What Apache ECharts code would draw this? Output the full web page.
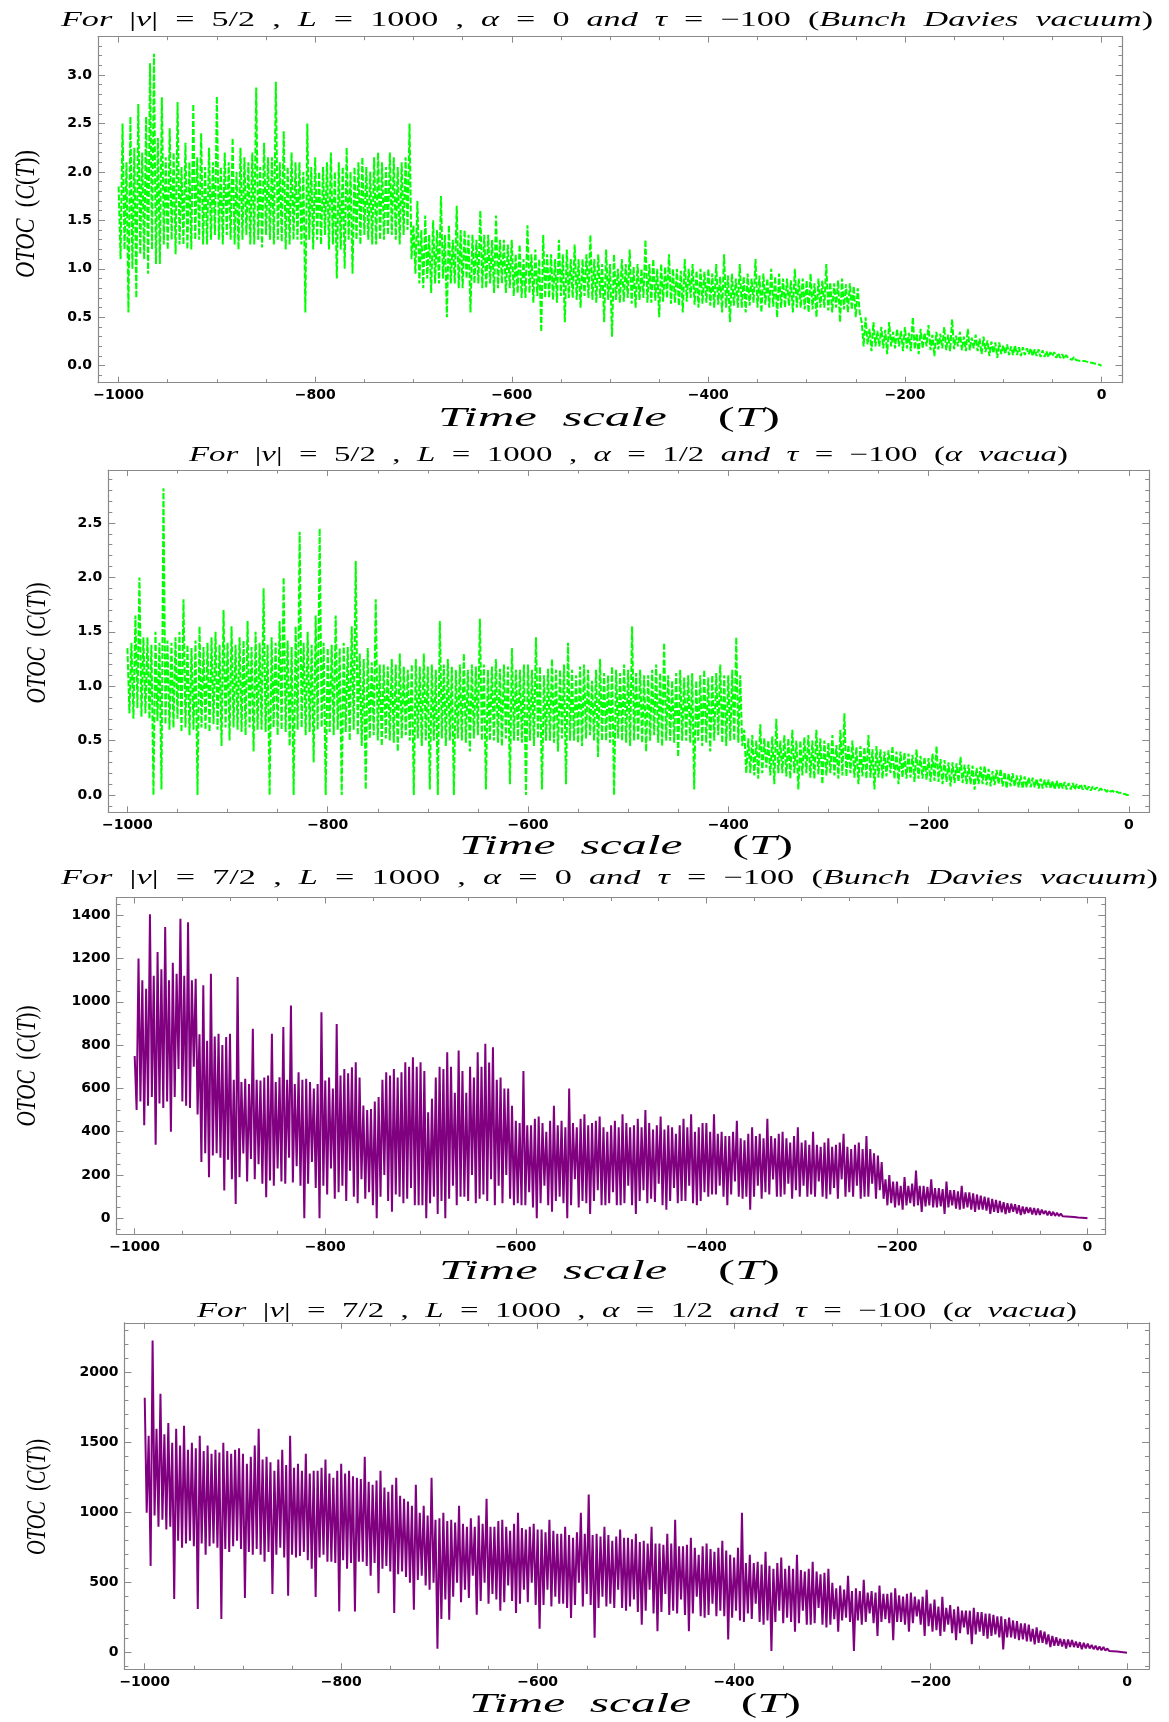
<!DOCTYPE html>
<html>
<head>
<meta charset="utf-8">
<title>OTOC vs time scale</title>
<script src="https://cdn.jsdelivr.net/npm/echarts@6/dist/echarts.min.js"></script>
<style>
  html, body { margin: 0; padding: 0; background: #ffffff; }
  #chart { width: 1169px; height: 1722px; }
</style>
</head>
<body>
<div id="chart"></div>
<script>
// OTOC values C(T), sampled every 2 time units from T = -1000 to T = 0 (501 samples each)
const otocNu52Alpha0 = [
  1.85, 1.10, 2.50, 1.20, 2.10, 0.55, 2.57, 1.00, 2.25, 0.70, 2.70, 1.15, 2.20, 1.10, 2.57, 0.95, 3.12, 1.20, 3.22, 1.05, 2.35, 1.05, 2.77, 1.25, 2.15, 1.20, 2.45, 1.30, 2.20, 1.15, 2.72, 1.25, 2.05, 1.25, 2.30, 1.20, 2.10, 1.20, 2.70, 1.30, 2.15, 1.30, 2.40, 1.25, 2.05, 1.25, 2.25, 1.30, 2.10, 1.35,
  2.78, 1.30, 2.05, 1.25, 2.20, 1.35, 2.10, 1.30, 2.35, 1.25, 2.00, 1.20, 2.25, 1.30, 2.15, 1.35, 2.10, 1.25, 2.20, 1.25, 2.87, 1.30, 2.05, 1.22, 2.30, 1.35, 2.15, 1.30, 2.15, 1.25, 2.93, 1.30, 2.10, 1.28, 2.42, 1.20, 2.05, 1.25, 2.20, 1.30, 2.10, 1.30, 2.10, 1.25, 2.00, 0.55, 2.50, 1.30, 2.05, 1.20,
  2.15, 1.30, 2.00, 1.25, 2.05, 1.35, 2.10, 1.20, 2.20, 1.25, 2.00, 0.90, 2.10, 1.20, 2.05, 1.00, 2.25, 1.30, 2.00, 0.95, 2.05, 1.30, 2.10, 1.25, 2.15, 1.35, 2.05, 1.30, 2.00, 1.25, 2.15, 1.25, 2.20, 1.30, 2.10, 1.30, 2.05, 1.35, 2.20, 1.35, 2.15, 1.30, 2.05, 1.25, 2.10, 1.35, 2.15, 1.40, 2.50, 1.10,
  1.45, 0.95, 1.70, 0.85, 1.40, 0.80, 1.55, 0.90, 1.35, 0.75, 1.50, 0.85, 1.40, 0.85, 1.75, 0.90, 1.35, 0.50, 1.45, 0.85, 1.30, 0.85, 1.65, 0.80, 1.40, 0.80, 1.40, 0.90, 1.35, 0.55, 1.35, 0.85, 1.30, 0.85, 1.60, 0.80, 1.35, 0.80, 1.35, 0.85, 1.30, 0.75, 1.55, 0.80, 1.30, 0.85, 1.30, 0.75, 1.25, 0.80,
  1.30, 0.72, 1.15, 0.75, 1.25, 0.70, 1.10, 0.70, 1.45, 0.75, 1.15, 0.65, 1.20, 0.72, 1.10, 0.35, 1.35, 0.70, 1.15, 0.70, 1.15, 0.68, 1.10, 0.65, 1.30, 0.72, 1.15, 0.45, 1.20, 0.70, 1.10, 0.70, 1.25, 0.68, 1.10, 0.60, 1.10, 0.72, 1.15, 0.70, 1.35, 0.68, 1.10, 0.65, 1.15, 0.70, 1.05, 0.45, 1.20, 0.68,
  1.05, 0.30, 1.15, 0.68, 1.00, 0.65, 1.10, 0.66, 1.05, 0.70, 1.20, 0.64, 1.02, 0.60, 1.05, 0.68, 1.00, 0.70, 1.30, 0.65, 1.05, 0.65, 1.10, 0.67, 1.00, 0.50, 1.05, 0.66, 1.02, 0.70, 1.15, 0.64, 1.00, 0.65, 1.00, 0.62, 0.98, 0.55, 1.10, 0.66, 1.00, 0.70, 1.05, 0.63, 0.98, 0.60, 1.00, 0.64, 0.97, 0.65,
  1.00, 0.62, 0.95, 0.60, 1.05, 0.63, 0.92, 0.55, 1.15, 0.60, 0.93, 0.45, 0.95, 0.62, 0.90, 0.60, 1.05, 0.60, 0.92, 0.55, 0.95, 0.62, 0.90, 0.65, 1.10, 0.60, 0.93, 0.55, 0.95, 0.63, 0.90, 0.60, 1.00, 0.61, 0.92, 0.50, 0.95, 0.60, 0.90, 0.60, 0.90, 0.62, 0.88, 0.55, 1.00, 0.60, 0.90, 0.60, 0.90, 0.58,
  0.88, 0.55, 0.95, 0.58, 0.85, 0.50, 0.90, 0.60, 0.88, 0.60, 1.05, 0.57, 0.86, 0.55, 0.85, 0.60, 0.88, 0.45, 0.90, 0.58, 0.84, 0.55, 0.85, 0.58, 0.82, 0.50, 0.80, 0.55, 0.45, 0.20, 0.50, 0.22, 0.38, 0.15, 0.45, 0.20, 0.36, 0.20, 0.40, 0.18, 0.37, 0.12, 0.45, 0.20, 0.35, 0.18, 0.38, 0.20, 0.36, 0.15,
  0.40, 0.18, 0.34, 0.15, 0.50, 0.17, 0.33, 0.12, 0.38, 0.18, 0.34, 0.20, 0.42, 0.16, 0.32, 0.10, 0.35, 0.17, 0.33, 0.18, 0.40, 0.16, 0.32, 0.15, 0.48, 0.17, 0.31, 0.20, 0.35, 0.16, 0.30, 0.15, 0.38, 0.16, 0.29, 0.18, 0.32, 0.15, 0.28, 0.12, 0.30, 0.14, 0.26, 0.10, 0.25, 0.13, 0.24, 0.08, 0.24, 0.12,
  0.21, 0.12, 0.22, 0.11, 0.20, 0.11, 0.21, 0.11, 0.19, 0.10, 0.19, 0.11, 0.18, 0.12, 0.18, 0.10, 0.17, 0.10, 0.17, 0.09, 0.16, 0.09, 0.15, 0.09, 0.14, 0.10, 0.14, 0.08, 0.13, 0.08, 0.12, 0.07, 0.11, 0.08, 0.10, 0.06, 0.09, 0.06, 0.08, 0.05, 0.07, 0.05, 0.06, 0.04, 0.05, 0.03, 0.04, 0.02, 0.02, 0.01,
  0.00
];

const otocNu52AlphaHalf = [
  1.35, 0.75, 1.40, 0.70, 1.65, 0.80, 2.00, 0.72, 1.45, 0.75, 1.45, 0.70, 1.38, 0.00, 1.50, 0.68, 1.40, 0.05, 2.82, 0.65, 1.42, 0.60, 1.40, 0.62, 1.45, 0.70, 1.50, 0.58, 1.80, 0.62, 1.38, 0.55, 1.35, 0.60, 1.42, 0.00, 1.55, 0.62, 1.36, 0.60, 1.40, 0.58, 1.45, 0.65, 1.50, 0.60, 1.38, 0.45, 1.70, 0.62,
  1.40, 0.50, 1.55, 0.62, 1.38, 0.60, 1.45, 0.58, 1.42, 0.55, 1.60, 0.62, 1.36, 0.40, 1.50, 0.60, 1.40, 0.60, 1.90, 0.58, 1.38, 0.00, 1.45, 0.62, 1.40, 0.55, 1.60, 0.60, 2.00, 0.58, 1.42, 0.45, 1.36, 0.00, 1.55, 0.60, 2.42, 0.62, 1.40, 0.55, 1.50, 0.58, 1.38, 0.30, 1.65, 0.60, 2.45, 0.62, 1.40, 0.00,
  1.35, 0.58, 1.38, 0.55, 1.65, 0.60, 1.35, 0.00, 1.40, 0.58, 1.36, 0.50, 1.55, 0.60, 2.15, 0.55, 1.30, 0.45, 1.25, 0.05, 1.35, 0.52, 1.22, 0.55, 1.80, 0.50, 1.20, 0.45, 1.20, 0.52, 1.18, 0.50, 1.25, 0.48, 1.20, 0.40, 1.30, 0.52, 1.18, 0.55, 1.15, 0.50, 1.20, 0.00, 1.25, 0.52, 1.18, 0.45, 1.30, 0.50,
  1.18, 0.05, 1.20, 0.50, 1.15, 0.00, 1.60, 0.52, 1.20, 0.45, 1.25, 0.50, 1.18, 0.00, 1.15, 0.52, 1.20, 0.50, 1.30, 0.48, 1.15, 0.40, 1.20, 0.52, 1.18, 0.55, 1.62, 0.50, 1.20, 0.05, 1.15, 0.50, 1.18, 0.50, 1.25, 0.48, 1.16, 0.45, 1.20, 0.52, 1.18, 0.10, 1.35, 0.50, 1.15, 0.50, 1.15, 0.48, 1.20, 0.00,
  1.20, 0.50, 1.15, 0.45, 1.45, 0.52, 1.18, 0.05, 1.10, 0.50, 1.16, 0.50, 1.25, 0.48, 1.15, 0.40, 1.15, 0.52, 1.20, 0.10, 1.40, 0.50, 1.15, 0.50, 1.10, 0.48, 1.18, 0.45, 1.20, 0.52, 1.15, 0.55, 1.05, 0.50, 1.15, 0.35, 1.25, 0.50, 1.12, 0.50, 1.10, 0.48, 1.18, 0.00, 1.15, 0.52, 1.12, 0.50, 1.20, 0.48,
  1.15, 0.45, 1.55, 0.50, 1.12, 0.50, 1.15, 0.48, 1.10, 0.40, 1.10, 0.50, 1.15, 0.55, 1.20, 0.48, 1.12, 0.45, 1.40, 0.50, 1.10, 0.50, 1.05, 0.48, 1.12, 0.35, 1.15, 0.50, 1.08, 0.50, 1.10, 0.48, 1.12, 0.05, 1.05, 0.50, 1.10, 0.45, 1.15, 0.48, 1.08, 0.40, 1.10, 0.50, 1.12, 0.55, 1.20, 0.48, 1.10, 0.45,
  1.10, 0.50, 1.15, 0.50, 1.45, 0.48, 1.10, 0.45, 0.60, 0.20, 0.52, 0.20, 0.55, 0.18, 0.50, 0.15, 0.65, 0.20, 0.52, 0.25, 0.50, 0.18, 0.54, 0.10, 0.70, 0.20, 0.50, 0.20, 0.55, 0.17, 0.52, 0.15, 0.60, 0.20, 0.50, 0.05, 0.50, 0.18, 0.53, 0.20, 0.55, 0.16, 0.50, 0.15, 0.60, 0.19, 0.52, 0.10, 0.50, 0.18,
  0.48, 0.20, 0.55, 0.18, 0.46, 0.15, 0.60, 0.18, 0.75, 0.17, 0.46, 0.20, 0.50, 0.16, 0.44, 0.10, 0.45, 0.17, 0.44, 0.15, 0.55, 0.16, 0.42, 0.05, 0.45, 0.16, 0.42, 0.15, 0.40, 0.17, 0.41, 0.20, 0.45, 0.15, 0.40, 0.10, 0.40, 0.16, 0.39, 0.15, 0.38, 0.16, 0.37, 0.12, 0.42, 0.15, 0.36, 0.15, 0.35, 0.14,
  0.34, 0.12, 0.38, 0.13, 0.45, 0.12, 0.33, 0.10, 0.32, 0.12, 0.30, 0.08, 0.30, 0.11, 0.29, 0.12, 0.35, 0.11, 0.28, 0.10, 0.28, 0.10, 0.27, 0.05, 0.25, 0.10, 0.26, 0.10, 0.27, 0.09, 0.24, 0.08, 0.22, 0.09, 0.23, 0.10, 0.24, 0.08, 0.21, 0.06, 0.20, 0.08, 0.20, 0.08, 0.18, 0.07, 0.18, 0.06, 0.17, 0.07,
  0.16, 0.07, 0.16, 0.07, 0.15, 0.06, 0.15, 0.06, 0.14, 0.07, 0.14, 0.06, 0.13, 0.05, 0.13, 0.06, 0.12, 0.06, 0.12, 0.05, 0.11, 0.05, 0.11, 0.05, 0.10, 0.06, 0.10, 0.05, 0.09, 0.04, 0.08, 0.04, 0.08, 0.05, 0.07, 0.04, 0.06, 0.04, 0.05, 0.03, 0.05, 0.03, 0.04, 0.02, 0.03, 0.02, 0.02, 0.01, 0.01, 0.00,
  0.00
];

const otocNu72Alpha0 = [
  750, 500, 1200, 540, 1100, 430, 1060, 520, 1404, 560, 1120, 340, 1230, 530, 1150, 510, 1345, 540, 1100, 400, 1180, 560, 1130, 690, 1384, 540, 1120, 520, 1368, 510, 1100, 700, 1106, 480, 850, 260, 1076, 300, 820, 190, 1130, 290, 840, 300, 852, 280, 800, 128, 837, 270,
  852, 180, 640, 66, 1114, 190, 630, 300, 644, 170, 620, 274, 875, 180, 640, 250, 636, 160, 650, 97, 660, 175, 852, 150, 630, 230, 652, 170, 883, 160, 640, 280, 983, 165, 620, 240, 675, 150, 640, 0, 644, 160, 630, 260, 600, 140, 620, 0, 952, 150,
  636, 110, 650, 230, 600, 90, 898, 120, 660, 150, 690, 80, 670, 220, 698, 100, 721, 70, 650, 180, 521, 90, 500, 120, 505, 60, 540, 0, 560, 100, 640, 200, 675, 80, 660, 30, 690, 110, 650, 100, 675, 70, 721, 90, 700, 140, 744, 60, 700, 60,
  721, 60, 680, 0, 490, 70, 552, 100, 650, 20, 700, 80, 690, 0, 767, 90, 700, 150, 580, 60, 775, 100, 680, 100, 580, 80, 700, 200, 650, 70, 767, 90, 700, 110, 806, 80, 720, 180, 790, 60, 640, 150, 650, 70, 600, 200, 600, 90, 520, 60,
  450, 70, 440, 60, 680, 60, 430, 120, 430, 50, 460, 0, 470, 70, 440, 150, 400, 60, 450, 30, 520, 80, 430, 100, 450, 70, 420, 0, 600, 60, 440, 180, 420, 50, 460, 80, 480, 70, 430, 20, 440, 80, 450, 130, 470, 60, 420, 60, 400, 70,
  430, 120, 450, 60, 420, 60, 480, 70, 440, 150, 420, 60, 430, 20, 460, 80, 420, 130, 500, 70, 440, 90, 410, 75, 430, 160, 470, 60, 410, 40, 430, 80, 420, 140, 390, 70, 430, 80, 460, 80, 420, 150, 480, 70, 400, 60, 420, 80, 440, 120,
  440, 100, 400, 110, 480, 110, 390, 150, 400, 100, 380, 60, 380, 110, 400, 170, 450, 100, 370, 90, 360, 100, 390, 40, 420, 100, 380, 150, 390, 90, 370, 120, 460, 110, 380, 180, 370, 100, 390, 100, 400, 110, 370, 160, 350, 90, 380, 130, 420, 100,
  350, 150, 360, 100, 340, 110, 400, 100, 340, 170, 330, 100, 350, 90, 370, 110, 330, 140, 340, 90, 350, 180, 390, 100, 330, 120, 320, 100, 340, 150, 350, 90, 320, 100, 380, 100, 320, 160, 300, 90, 290, 130, 260, 90, 180, 60, 200, 70, 170, 50,
  170, 60, 150, 40, 190, 60, 150, 70, 160, 55, 220, 60, 150, 30, 150, 55, 145, 60, 180, 50, 140, 50, 140, 55, 135, 20, 170, 50, 130, 60, 130, 45, 125, 40, 150, 45, 120, 50, 120, 40, 115, 30, 110, 40, 105, 40, 100, 35, 95, 20,
  90, 30, 85, 25, 80, 28, 75, 20, 70, 25, 68, 30, 65, 22, 60, 15, 55, 20, 52, 25, 50, 18, 48, 15, 45, 16, 40, 20, 35, 14, 33, 12, 30, 11, 26, 10, 22, 9, 18, 8, 15, 7, 12, 6, 10, 4, 6, 3, 4, 1,
  0
];

const otocNu72AlphaHalf = [
  1820, 1000, 1550, 620, 2230, 980, 1600, 900, 1850, 950, 1560, 880, 1640, 900, 1500, 383, 1600, 800, 1480, 750, 1620, 780, 1450, 800, 1500, 760, 1460, 312, 1550, 780, 1440, 700, 1480, 760, 1420, 780, 1450, 750, 1430, 241, 1500, 740, 1440, 720, 1420, 760, 1450, 800, 1460, 740,
  1420, 390, 1350, 720, 1400, 700, 1480, 740, 1600, 700, 1380, 650, 1400, 720, 1360, 420, 1300, 700, 1380, 750, 1450, 680, 1340, 406, 1550, 700, 1320, 680, 1350, 690, 1300, 720, 1420, 660, 1280, 600, 1300, 397, 1300, 680, 1320, 700, 1380, 650, 1280, 650, 1250, 640, 1300, 295,
  1350, 660, 1280, 600, 1300, 640, 1260, 295, 1250, 650, 1240, 650, 1400, 620, 1220, 550, 1200, 640, 1230, 425, 1300, 600, 1180, 620, 1150, 580, 1200, 284, 1250, 560, 1120, 580, 1100, 540, 1080, 500, 1050, 307, 1200, 520, 1000, 550, 1050, 480, 980, 450, 1250, 500, 950, 29,
  960, 241, 1000, 380, 940, 236, 950, 400, 930, 500, 1050, 360, 920, 450, 900, 390, 960, 550, 900, 272, 980, 370, 920, 500, 1100, 350, 900, 420, 900, 380, 940, 300, 950, 360, 900, 480, 870, 370, 920, 284, 1000, 350, 890, 450, 880, 360, 900, 500, 920, 340,
  880, 171, 880, 340, 860, 450, 950, 330, 870, 400, 850, 350, 850, 350, 900, 320, 840, 248, 820, 340, 860, 500, 1000, 330, 850, 420, 1130, 340, 840, 107, 850, 320, 830, 400, 900, 330, 840, 350, 800, 320, 830, 450, 880, 320, 820, 300, 820, 330, 810, 380,
  850, 290, 790, 200, 800, 300, 780, 450, 900, 280, 780, 154, 780, 290, 770, 420, 850, 270, 780, 300, 950, 280, 760, 380, 760, 270, 770, 154, 820, 280, 750, 400, 700, 260, 760, 250, 780, 270, 740, 350, 720, 260, 750, 300, 800, 260, 730, 95, 700, 250,
  680, 300, 750, 230, 1000, 220, 640, 280, 700, 240, 640, 350, 650, 220, 630, 200, 720, 230, 620, 13, 600, 220, 640, 300, 680, 210, 600, 250, 620, 220, 600, 150, 700, 210, 590, 300, 580, 200, 600, 200, 650, 210, 580, 320, 560, 200, 570, 180, 600, 200,
  500, 240, 460, 150, 480, 230, 450, 250, 550, 220, 440, 13, 460, 230, 440, 200, 520, 220, 430, 280, 440, 210, 430, 120, 480, 220, 420, 240, 420, 210, 430, 90, 460, 220, 410, 220, 400, 200, 420, 150, 430, 210, 400, 260, 380, 200, 400, 120, 450, 190,
  350, 150, 380, 160, 330, 120, 400, 150, 320, 200, 340, 140, 310, 90, 330, 140, 300, 180, 300, 130, 300, 60, 320, 130, 290, 150, 290, 120, 280, 100, 280, 120, 270, 130, 260, 110, 260, 24, 240, 110, 250, 110, 230, 100, 225, 90, 210, 95, 210, 80,
  200, 80, 170, 60, 180, 70, 160, 70, 150, 60, 130, 40, 120, 50, 110, 50, 100, 45, 95, 30, 95, 40, 90, 40, 80, 35, 75, 25, 70, 30, 65, 30, 55, 25, 50, 20, 45, 18, 40, 15, 30, 12, 25, 10, 20, 8, 12, 5, 8, 2,
  0
];

// Time axis span and tick labels
const timeStart = -1000;
const timeEnd = 0;
const timeTicks = [-1000, -800, -600, -400, -200, 0];
const otocTicksP1 = [0, 0.5, 1.0, 1.5, 2.0, 2.5, 3.0];
const otocTicksP2 = [0, 0.5, 1.0, 1.5, 2.0, 2.5];
const otocTicksP3 = [0, 200, 400, 600, 800, 1000, 1200, 1400];
const otocTicksP4 = [0, 500, 1000, 1500, 2000];

// Panel captions, as [style, text] runs: 'i' = math italic, 'r' = upright
const captionP1 = [['i', 'For'], ['r', '  |'], ['i', 'ν'], ['r', '|  =  5/2  ,  '], ['i', 'L'], ['r', '  =  1000  ,  '], ['i', 'α'], ['r', '  =  0  '], ['i', 'and'], ['r', '  '], ['i', 'τ'], ['r', '  =  −100  ('], ['i', 'Bunch  Davies  vacuum'], ['r', ')']];
const captionP2 = [['i', 'For'], ['r', '  |'], ['i', 'ν'], ['r', '|  =  5/2  ,  '], ['i', 'L'], ['r', '  =  1000  ,  '], ['i', 'α'], ['r', '  =  1/2  '], ['i', 'and'], ['r', '  '], ['i', 'τ'], ['r', '  =  −100  ('], ['i', 'α  vacua'], ['r', ')']];
const captionP3 = [['i', 'For'], ['r', '  |'], ['i', 'ν'], ['r', '|  =  7/2  ,  '], ['i', 'L'], ['r', '  =  1000  ,  '], ['i', 'α'], ['r', '  =  0  '], ['i', 'and'], ['r', '  '], ['i', 'τ'], ['r', '  =  −100  ('], ['i', 'Bunch  Davies  vacuum'], ['r', ')']];
const captionP4 = [['i', 'For'], ['r', '  |'], ['i', 'ν'], ['r', '|  =  7/2  ,  '], ['i', 'L'], ['r', '  =  1000  ,  '], ['i', 'α'], ['r', '  =  1/2  '], ['i', 'and'], ['r', '  '], ['i', 'τ'], ['r', '  =  −100  ('], ['i', 'α  vacua'], ['r', ')']];
const timeAxisName = [['i', 'Time  scale'], ['r', '    ('], ['i', 'T'], ['r', ')']];
const otocAxisName = [['i', 'OTOC'], ['r', '  ('], ['i', 'C'], ['r', '('], ['i', 'T'], ['r', '))']];

// ---- styling / layout ----
const SERIF = '"Liberation Serif", "DejaVu Serif", serif';
const TICK_FONT = '"DejaVu Sans", "Liberation Sans", sans-serif';
const FRAME = '#8a8a8a';
const GREEN = '#00ff00';
const PURPLE = '#800080';

function range(a, b, step) {
  const out = [];
  const n = Math.round((b - a) / step);
  for (let k = 0; k <= n; k++) out.push(+(a + k * step).toFixed(6));
  return out;
}
const minusSign = v => (v < 0 ? '\u2212' + Math.abs(v) : String(v));

const panels = [
  {
    values: otocNu52Alpha0, color: GREEN, dash: [6, 2],
    grid: { left: 98, top: 36.7, width: 1024.5, height: 346 },
    xRange: [-1020.96, 21.37], yRange: [-0.175, 3.395],
    yTicks: otocTicksP1, yMinor: range(-0.1, 3.3, 0.1), yFmt: v => v.toFixed(1),
    caption: captionP1, capBox: [61, 1153, 20],
    xName: [438, 780, 419], yName: [27, 214, 128]
  },
  {
    values: otocNu52AlphaHalf, color: GREEN, dash: [6, 2],
    grid: { left: 108.3, top: 470, width: 1040.9, height: 342.3 },
    xRange: [-1019.1, 20.4], yRange: [-0.159, 2.987],
    yTicks: otocTicksP2, yMinor: range(-0.1, 2.9, 0.1), yFmt: v => v.toFixed(1),
    caption: captionP2, capBox: [189, 1068, 455],
    xName: [459, 793, 847], yName: [38, 643, 121]
  },
  {
    values: otocNu72Alpha0, color: PURPLE, dash: 'solid',
    grid: { left: 116.5, top: 897.5, width: 988.8, height: 336.8 },
    xRange: [-1019.1, 18.7], yRange: [-73.9, 1481.8],
    yTicks: otocTicksP3, yMinor: range(-50, 1450, 50), yFmt: v => String(v),
    caption: captionP3, capBox: [61, 1158, 878.5],
    xName: [439, 780, 1272], yName: [28, 1066, 121]
  },
  {
    values: otocNu72AlphaHalf, color: PURPLE, dash: 'solid',
    grid: { left: 124.4, top: 1322.8, width: 1024.6, height: 346.5 },
    xRange: [-1020.7, 22.4], yRange: [-118.6, 2356],
    yTicks: otocTicksP4, yMinor: range(-100, 2300, 100), yFmt: v => String(v),
    caption: captionP4, capBox: [197, 1077, 1311.5],
    xName: [469, 801, 1704.5], yName: [38, 1497, 116]
  }
];

const timeMinor = range(timeStart, timeEnd, 50);

// text measuring for the stretched math captions
const measureCtx = document.createElement('canvas').getContext('2d');
function runsWidth(runs, size) {
  let w = 0;
  for (const [k, t] of runs) {
    measureCtx.font = (k === 'i' ? 'italic ' : '') + size + 'px ' + SERIF;
    w += measureCtx.measureText(t).width;
  }
  return w;
}
function richOf(runs) {
  return runs.map(([k, t]) => '{' + k + '|' + t + '}').join('');
}
function mathText(runs, size, opts) {
  const richStyles = {
    i: { fontFamily: SERIF, fontStyle: 'italic', fontSize: size, fill: '#000' },
    r: { fontFamily: SERIF, fontSize: size, fill: '#000' }
  };
  return Object.assign({
    type: 'text',
    silent: true,
    style: {
      text: richOf(runs), rich: richStyles,
      fontFamily: SERIF, fontSize: size, fill: '#000',
      align: opts.align, verticalAlign: 'middle',
      textAlign: opts.align, textVerticalAlign: 'middle'
    }
  }, opts.el);
}

const grids = [];
const xAxes = [];
const yAxes = [];
const series = [];
const graphics = [];

const tickLine = { color: FRAME, width: 1 };
const tickLabel = { fontFamily: TICK_FONT, fontWeight: 'bold', fontSize: 14, color: '#000' };

panels.forEach((p, gi) => {
  grids.push(Object.assign({ containLabel: false }, p.grid));

  const xBase = { type: 'value', gridIndex: gi, min: p.xRange[0], max: p.xRange[1], splitLine: { show: false } };
  const xMain = xAxes.length;
  // bottom frame edge with labels and major ticks
  xAxes.push(Object.assign({}, xBase, {
    position: 'bottom',
    axisLine: { show: true, onZero: false, lineStyle: { color: FRAME, width: 1.2 } },
    axisTick: { show: true, inside: true, length: 6, customValues: timeTicks, lineStyle: tickLine },
    axisLabel: Object.assign({ show: true, customValues: timeTicks, formatter: minusSign, margin: 6 }, tickLabel)
  }));
  // bottom minor ticks
  xAxes.push(Object.assign({}, xBase, {
    position: 'bottom',
    axisLine: { show: false, onZero: false },
    axisTick: { show: true, inside: true, length: 3.5, customValues: timeMinor, lineStyle: tickLine },
    axisLabel: { show: false }
  }));
  // top frame edge
  xAxes.push(Object.assign({}, xBase, {
    position: 'top',
    axisLine: { show: true, onZero: false, lineStyle: { color: FRAME, width: 1.2 } },
    axisTick: { show: true, inside: true, length: 6, customValues: timeTicks, lineStyle: tickLine },
    axisLabel: { show: false }
  }));
  xAxes.push(Object.assign({}, xBase, {
    position: 'top',
    axisLine: { show: false, onZero: false },
    axisTick: { show: true, inside: true, length: 3.5, customValues: timeMinor, lineStyle: tickLine },
    axisLabel: { show: false }
  }));

  const yBase = { type: 'value', gridIndex: gi, min: p.yRange[0], max: p.yRange[1], splitLine: { show: false } };
  const yMain = yAxes.length;
  yAxes.push(Object.assign({}, yBase, {
    position: 'left',
    axisLine: { show: true, onZero: false, lineStyle: { color: FRAME, width: 1.2 } },
    axisTick: { show: true, inside: true, length: 7, customValues: p.yTicks, lineStyle: tickLine },
    axisLabel: Object.assign({ show: true, customValues: p.yTicks, formatter: p.yFmt, margin: 6 }, tickLabel)
  }));
  yAxes.push(Object.assign({}, yBase, {
    position: 'left',
    axisLine: { show: false, onZero: false },
    axisTick: { show: true, inside: true, length: 4, customValues: p.yMinor, lineStyle: tickLine },
    axisLabel: { show: false }
  }));
  yAxes.push(Object.assign({}, yBase, {
    position: 'right',
    axisLine: { show: true, onZero: false, lineStyle: { color: FRAME, width: 1.2 } },
    axisTick: { show: true, inside: true, length: 7, customValues: p.yTicks, lineStyle: tickLine },
    axisLabel: { show: false }
  }));
  yAxes.push(Object.assign({}, yBase, {
    position: 'right',
    axisLine: { show: false, onZero: false },
    axisTick: { show: true, inside: true, length: 4, customValues: p.yMinor, lineStyle: tickLine },
    axisLabel: { show: false }
  }));

  // time grid for this series: evenly spaced from timeStart to timeEnd
  const n = p.values.length;
  const points = p.values.map((v, i) => [timeStart + (timeEnd - timeStart) * i / (n - 1), v]);
  series.push({
    type: 'line',
    xAxisIndex: xMain,
    yAxisIndex: yMain,
    data: points,
    symbol: 'none',
    showSymbol: false,
    silent: true,
    clip: true,
    animation: false,
    sampling: null,
    lineStyle: { color: p.color, width: 2, type: p.dash, join: 'bevel', cap: 'butt' }
  });

  // caption above the frame
  const capSize = 21;
  const capW = runsWidth(p.caption, capSize);
  graphics.push(mathText(p.caption, capSize, {
    align: 'left',
    el: { x: p.capBox[0], y: p.capBox[2], scaleX: (p.capBox[1] - p.capBox[0]) / capW }
  }));

  // horizontal axis name
  const xnSize = 27;
  const xnW = runsWidth(timeAxisName, xnSize);
  graphics.push(mathText(timeAxisName, xnSize, {
    align: 'left',
    el: { x: p.xName[0], y: p.xName[2], scaleX: (p.xName[1] - p.xName[0]) / xnW }
  }));

  // vertical axis name, reading upwards
  const ynSize = 18;
  const ynW = runsWidth(otocAxisName, ynSize);
  graphics.push(mathText(otocAxisName, ynSize, {
    align: 'center',
    el: { x: p.yName[0], y: p.yName[1], rotation: Math.PI / 2, scaleX: p.yName[2] / ynW, scaleY: 1.5 }
  }));
});

const chart = echarts.init(document.getElementById('chart'), null, { renderer: 'canvas' });
chart.setOption({
  backgroundColor: '#ffffff',
  animation: false,
  grid: grids,
  xAxis: xAxes,
  yAxis: yAxes,
  series: series,
  graphic: { elements: graphics }
});
</script>
</body>
</html>
